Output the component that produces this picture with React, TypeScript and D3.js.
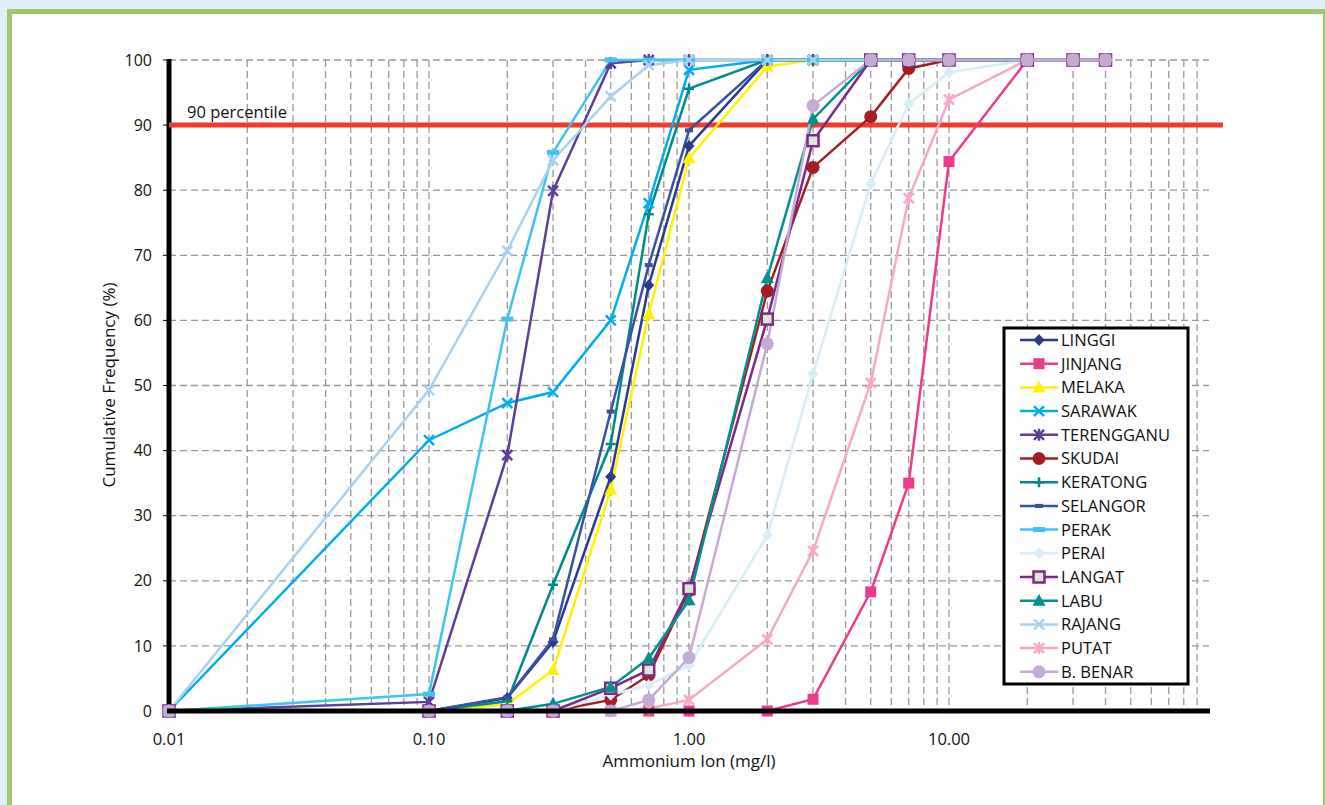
import * as d3 from "d3";

const xValues = [0.01, 0.1, 0.2, 0.3, 0.5, 0.7, 1, 2, 3, 5, 7, 10, 20, 30, 40];

const linggi = [0, 0, 2, 10.6, 36, 65.4, 86.8, 100, 100, 100, 100, 100, 100, 100, 100];
const jinjang = [0, 0, 0, 0, 0, 0, 0, 0, 1.8, 18.3, 35, 84.4, 100, 100, 100];
const melaka = [0, 0, 1, 6.3, 34, 61, 84.9, 99, 100, 100, 100, 100, 100, 100, 100];
const sarawak = [0, 41.6, 47.3, 49, 60, 78, 98.5, 100, 100, 100, 100, 100, 100, 100, 100];
const terengganu = [0, 1.4, 39.3, 79.9, 99.5, 100, 100, 100, 100, 100, 100, 100, 100, 100, 100];
const skudai = [0, 0, 0, 0, 1.7, 5.5, 18.5, 64.5, 83.5, 91.3, 98.7, 100, 100, 100, 100];
const keratong = [0, 0, 1.5, 19.4, 41, 76.3, 95.6, 100, 100, 100, 100, 100, 100, 100, 100];
const selangor = [0, 0, 2.1, 11, 46, 68.5, 89.2, 100, 100, 100, 100, 100, 100, 100, 100];
const perak = [0, 2.6, 60.2, 85.8, 100, 100, 100, 100, 100, 100, 100, 100, 100, 100, 100];
const perai = [0, 0, 0, 0, 2.5, 4, 7, 27, 51.8, 81, 93.3, 98.1, 100, 100, 100];
const langat = [0, 0, 0, 0, 3.5, 6.3, 18.8, 60.2, 87.6, 100, 100, 100, 100, 100, 100];
const labu = [0, 0, 0, 1.1, 3.7, 8.1, 17, 66.5, 90.9, 100, 100, 100, 100, 100, 100];
const rajang = [0, 49.3, 70.7, 84.6, 94.4, 99.2, 100, 100, 100, 100, 100, 100, 100, 100, 100];
const putat = [0, 0, 0, 0, 0, 0.4, 1.7, 11, 24.6, 50.4, 78.8, 93.9, 100, 100, 100];
const bBenar = [0, 0, 0, 0, 0, 1.7, 8.2, 56.4, 93, 100, 100, 100, 100, 100, 100];

const series = [
  { name: "LINGGI", values: linggi, color: "#2b3990", marker: "diamond" },
  { name: "JINJANG", values: jinjang, color: "#ec3b8d", marker: "square" },
  { name: "MELAKA", values: melaka, color: "#fff200", marker: "triangle" },
  { name: "SARAWAK", values: sarawak, color: "#00aeef", marker: "x" },
  { name: "TERENGGANU", values: terengganu, color: "#5c3f98", marker: "star" },
  { name: "SKUDAI", values: skudai, color: "#a51d24", marker: "circle" },
  { name: "KERATONG", values: keratong, color: "#008b8a", marker: "plus" },
  { name: "SELANGOR", values: selangor, color: "#3851a3", marker: "dash" },
  { name: "PERAK", values: perak, color: "#40c3ee", marker: "bar" },
  { name: "PERAI", values: perai, color: "#d7eef7", marker: "diamond" },
  { name: "LANGAT", values: langat, color: "#7b2a86", marker: "hollow" },
  { name: "LABU", values: labu, color: "#00928e", marker: "triangle" },
  { name: "RAJANG", values: rajang, color: "#a9d1f0", marker: "x" },
  { name: "PUTAT", values: putat, color: "#f6a8c9", marker: "star" },
  { name: "B. BENAR", values: bBenar, color: "#c4aad5", marker: "circle" },
];

const yTicks = [0, 10, 20, 30, 40, 50, 60, 70, 80, 90, 100];
const xTickLabels = [
  { v: 0.01, label: "0.01" },
  { v: 0.1, label: "0.10" },
  { v: 1, label: "1.00" },
  { v: 10, label: "10.00" },
];
const percentile = 90;

const font = "'Open Sans', 'Noto Sans', sans-serif";

const x = d3.scaleLog().domain([0.01, 100]).range([169, 1209]);
const y = d3.scaleLinear().domain([0, 100]).range([711, 60]);

function Marker({ type, color, cx, cy }: { type: string; color: string; cx: number; cy: number }) {
  const t = `translate(${cx},${cy})`;
  switch (type) {
    case "diamond":
      return <path transform={t} d="M0,-6L5.5,0L0,6L-5.5,0Z" fill={color} />;
    case "square":
      return <rect x={cx - 5.5} y={cy - 5.5} width={11} height={11} fill={color} />;
    case "triangle":
      return <path transform={t} d="M0,-7L6.5,5L-6.5,5Z" fill={color} />;
    case "x":
      return <path transform={t} d="M-5,-5L5,5M5,-5L-5,5" stroke={color} strokeWidth={2.5} />;
    case "star":
      return <path transform={t} d="M-5,-5L5,5M5,-5L-5,5M0,-6L0,6" stroke={color} strokeWidth={2.5} />;
    case "circle":
      return <circle cx={cx} cy={cy} r={6.5} fill={color} />;
    case "plus":
      return <path transform={t} d="M-5,0L5,0M0,-5L0,5" stroke={color} strokeWidth={2.5} />;
    case "dash":
      return <rect x={cx - 4} y={cy - 2} width={8} height={4} fill={color} />;
    case "bar":
      return <rect x={cx - 6} y={cy - 2.5} width={12} height={5} fill={color} />;
    case "hollow":
      return <rect x={cx - 5.5} y={cy - 5.5} width={11} height={11} fill="#dde8d6" stroke={color} strokeWidth={2.5} />;
    default:
      return null;
  }
}

export default function App() {
  const gridX: number[] = [];
  [0.01, 0.1, 1, 10].forEach((d) => {
    for (let m = 1; m <= 9; m++) {
      const v = d * m;
      if (v > 0.01 + 1e-9) gridX.push(v);
    }
  });

  const line = d3
    .line<number>()
    .x((_, i) => x(xValues[i]))
    .y((d) => y(d));

  const legendX = 1004;
  const legendY = 328;
  const legendStep = 23.7;

  return (
    <svg width={1325} height={805} style={{ position: "absolute", left: 0, top: 0, fontFamily: font }}>
      <rect x={0} y={0} width={1325} height={805} fill="#dff0f9" />
      <rect x={7} y={9} width={1330} height={820} fill="#a3c76d" />
      <rect x={12} y={14} width={1311} height={820} fill="#ffffff" />

      {/* grid */}
      {gridX.map((v) => (
        <line key={"gx" + v} x1={x(v)} x2={x(v)} y1={y(100)} y2={y(0)} stroke="#999" strokeWidth={1.3} strokeDasharray="7,4" />
      ))}
      {yTicks.map((t) => (
        <line key={"gy" + t} x1={x(0.01)} x2={x(100)} y1={y(t)} y2={y(t)} stroke="#999" strokeWidth={1.3} strokeDasharray="7,4" />
      ))}

      {/* axes */}
      <line x1={x(0.01)} x2={x(0.01)} y1={y(100) - 1} y2={y(0)} stroke="#000" strokeWidth={5} />
      {yTicks.map((t) => (
        <g key={"yt" + t}>
          <line x1={x(0.01) - 6} x2={x(0.01)} y1={y(t)} y2={y(t)} stroke="#000" strokeWidth={1} />
          <text x={152} y={y(t)} dy="0.35em" textAnchor="end" fontSize={16} fill="#111">
            {t}
          </text>
        </g>
      ))}
      {xTickLabels.map((t) => (
        <text key={"xt" + t.label} x={x(t.v)} y={745} textAnchor="middle" fontSize={16.5} fill="#111">
          {t.label}
        </text>
      ))}
      <text x={689} y={767} textAnchor="middle" fontSize={17} fill="#111">
        Ammonium Ion (mg/l)
      </text>
      <text transform="translate(115,385) rotate(-90)" textAnchor="middle" fontSize={17} fill="#111">
        Cumulative Frequency (%)
      </text>

      {/* 90 percentile */}
      <line x1={x(0.01)} x2={1223} y1={y(percentile)} y2={y(percentile)} stroke="#ef3b2c" strokeWidth={5} />
      <text x={187} y={y(percentile) - 7} fontSize={16.5} fill="#111">
        90 percentile
      </text>

      {/* series */}
      {series.map((s) => (
        <path key={"l" + s.name} d={line(s.values) || ""} fill="none" stroke={s.color} strokeWidth={2.5} />
      ))}
      {series.map((s) => (
        <g key={"m" + s.name}>
          {s.values.map((v, i) => (
            <Marker key={i} type={s.marker} color={s.color} cx={x(xValues[i])} cy={y(v)} />
          ))}
        </g>
      ))}

      <line x1={x(0.01) - 2} x2={1210} y1={y(0)} y2={y(0)} stroke="#000" strokeWidth={5} />

      {/* legend */}
      <rect x={legendX} y={legendY} width={184} height={356} fill="#fff" stroke="#000" strokeWidth={3} />
      {series.map((s, i) => {
        const cy = legendY + 12 + i * legendStep;
        return (
          <g key={"lg" + s.name}>
            <line x1={1020} x2={1058} y1={cy} y2={cy} stroke={s.color} strokeWidth={2.5} />
            <Marker type={s.marker} color={s.color} cx={1039} cy={cy} />
            <text x={1061} y={cy} dy="0.36em" fontSize={16.5} fill="#111">
              {s.name}
            </text>
          </g>
        );
      })}
    </svg>
  );
}
